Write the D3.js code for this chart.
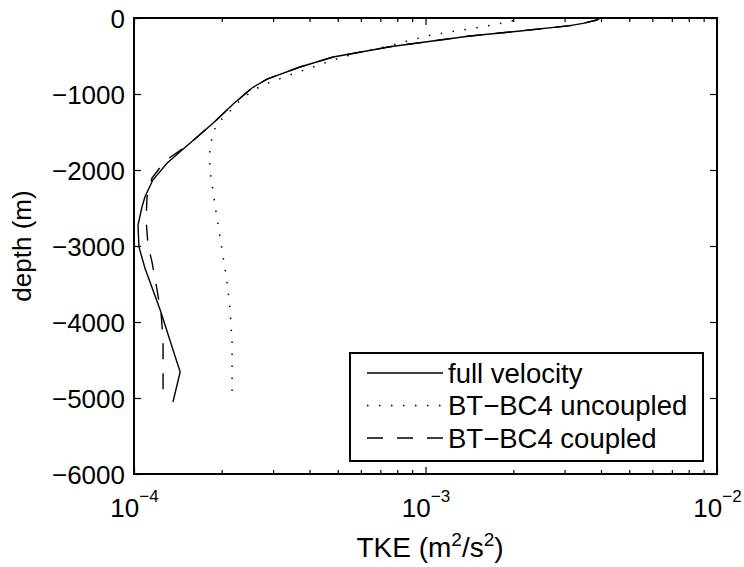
<!DOCTYPE html>
<html>
<head>
<meta charset="utf-8">
<script src="https://cdn.jsdelivr.net/npm/d3@7"></script>
<style>
body { margin: 0; background: #fff; }
text { font-family: "Liberation Sans", Arial, Helvetica, sans-serif; fill: #000; }
</style>
</head>
<body>
<svg width="744" height="567"></svg>
<script>
// full velocity (solid)
const depthFull = [0, -26, -70, -101, -171, -237, -378, -474, -513, -645, -803, -921, -1132, -1382, -1671, -1908, -2132, -2355, -2487, -2724, -3013, -3290, -3842, -4658, -5053];
const tkeFull = [3.97e-3, 3.87e-3, 3.47e-3, 3.13e-3, 2.11e-3, 1.42e-3, 7.55e-4, 5.51e-4, 4.82e-4, 3.71e-4, 2.86e-4, 2.54e-4, 2.19e-4, 1.87e-4, 1.53e-4, 1.30e-4, 1.16e-4, 1.09e-4, 1.065e-4, 1.032e-4, 1.04e-4, 1.09e-4, 1.23e-4, 1.44e-4, 1.36e-4];

// BT-BC4 uncoupled (dotted)
const depthUnc = [0, -70, -128, -180, -233, -312, -355, -461, -553, -658, -763, -882, -961, -1118, -1276, -1382, -1513, -1697, -2000, -2171, -2487, -2816, -3132, -3447, -3776, -4263, -4908];
const tkeUnc = [2.19e-3, 1.82e-3, 1.50e-3, 1.23e-3, 1.02e-3, 8.51e-4, 7.74e-4, 5.82e-4, 4.82e-4, 4.02e-4, 3.35e-4, 2.77e-4, 2.54e-4, 2.26e-4, 2.08e-4, 1.93e-4, 1.87e-4, 1.82e-4, 1.82e-4, 1.85e-4, 1.90e-4, 1.96e-4, 2.02e-4, 2.08e-4, 2.13e-4, 2.17e-4, 2.17e-4];

// BT-BC4 coupled (dashed)
const depthCpl = [0, -26, -70, -101, -171, -237, -378, -474, -513, -645, -803, -921, -1132, -1382, -1671, -1882, -2105, -2355, -2658, -2987, -3211, -3579, -3908, -4237, -4908];
const tkeCpl = [3.97e-3, 3.87e-3, 3.47e-3, 3.13e-3, 2.11e-3, 1.42e-3, 7.55e-4, 5.51e-4, 4.82e-4, 3.71e-4, 2.86e-4, 2.54e-4, 2.19e-4, 1.87e-4, 1.53e-4, 1.277e-4, 1.153e-4, 1.108e-4, 1.10e-4, 1.117e-4, 1.153e-4, 1.20e-4, 1.24e-4, 1.258e-4, 1.258e-4];

const yTicks = [0, -1000, -2000, -3000, -4000, -5000, -6000];
const xMajor = [1e-4, 1e-3, 1e-2];
const xMajorExp = ["\u22124", "\u22123", "\u22122"];
const legendNames = ["full velocity", "BT\u2212BC4 uncoupled", "BT\u2212BC4 coupled"];

const LEFT = 134, RIGHT = 717, TOP = 18, BOTTOM = 474;
const FONT = 26;

const svg = d3.select('svg');

const x = d3.scaleLog().domain([1e-4, 1e-2]).range([LEFT, RIGHT]);
const y = d3.scaleLinear().domain([-6000, 0]).range([BOTTOM, TOP]);

const isMajor = d => xMajor.some(m => Math.abs(m - d) / m < 1e-6);

// x ticks (bottom + top), inward
const gB = svg.append('g')
  .attr('transform', `translate(0,${BOTTOM})`)
  .call(d3.axisBottom(x).tickValues(x.ticks()).tickSizeInner(-6).tickSizeOuter(0).tickFormat(''));
gB.selectAll('.tick line').attr('y2', d => isMajor(d) ? -7 : -4);

const gT = svg.append('g')
  .attr('transform', `translate(0,${TOP})`)
  .call(d3.axisTop(x).tickValues(x.ticks()).tickSizeInner(-6).tickSizeOuter(0).tickFormat(''));
gT.selectAll('.tick line').attr('y2', d => isMajor(d) ? 7 : 4);

// y ticks (left + right)
const gL = svg.append('g')
  .attr('transform', `translate(${LEFT},0)`)
  .call(d3.axisLeft(y).tickValues(yTicks).tickSizeInner(-7).tickSizeOuter(0).tickPadding(9).tickFormat(d3.format('d')));
gL.selectAll('.tick text').attr('font-size', FONT).attr('font-family', null).attr('dy', '0.36em');

const gR = svg.append('g')
  .attr('transform', `translate(${RIGHT},0)`)
  .call(d3.axisRight(y).tickValues(yTicks).tickSizeInner(-7).tickSizeOuter(0).tickFormat(''));

svg.selectAll('.domain').remove();
svg.selectAll('.tick line').attr('stroke', '#000').attr('stroke-width', 1.2);

// x tick labels 10^n
gB.selectAll('.tick text').remove();
gB.selectAll('.tick').filter(d => isMajor(d)).each(function(d) {
  const i = xMajor.findIndex(m => Math.abs(m - d) / m < 1e-6);
  const t = d3.select(this).append('text')
    .attr('y', 43)
    .attr('text-anchor', 'middle')
    .attr('font-size', FONT)
    .attr('fill', '#000');
  t.append('tspan').text('10');
  t.append('tspan').attr('dy', -15).attr('font-size', 17).text(xMajorExp[i]);
});

// frame
svg.append('rect')
  .attr('x', LEFT).attr('y', TOP)
  .attr('width', RIGHT - LEFT).attr('height', BOTTOM - TOP)
  .attr('fill', 'none').attr('stroke', '#000').attr('stroke-width', 2);

// lines
const line = d3.line().x(d => x(d[0])).y(d => y(d[1]));
const series = [
  { tke: tkeFull, depth: depthFull, dash: null, w: 1.4 },
  { tke: tkeUnc, depth: depthUnc, dash: '1.5,10.5', w: 1.5 },
  { tke: tkeCpl, depth: depthCpl, dash: '16,14', w: 1.4 }
];
series.forEach(s => {
  svg.append('path')
    .datum(s.tke.map((v, i) => [v, s.depth[i]]))
    .attr('d', line)
    .attr('fill', 'none')
    .attr('stroke', '#000')
    .attr('stroke-width', s.w)
    .attr('stroke-dasharray', s.dash);
});

// legend
const lg = svg.append('g');
lg.append('rect')
  .attr('x', 350).attr('y', 353).attr('width', 353).attr('height', 108)
  .attr('fill', '#fff').attr('stroke', '#000').attr('stroke-width', 2);
legendNames.forEach((name, i) => {
  const cy = 373 + i * 32.5;
  lg.append('line')
    .attr('x1', 367).attr('x2', 443).attr('y1', cy).attr('y2', cy)
    .attr('stroke', '#000')
    .attr('stroke-width', series[i].w)
    .attr('stroke-dasharray', series[i].dash);
  lg.append('text')
    .attr('x', 448).attr('y', cy + 9.5)
    .attr('font-size', 27.5)
    .text(name);
});

// axis labels
const xl = svg.append('text')
  .attr('x', 430).attr('y', 557)
  .attr('text-anchor', 'middle')
  .attr('font-size', 28);
xl.append('tspan').text('TKE (m');
xl.append('tspan').attr('dy', -11).attr('font-size', 19).text('2');
xl.append('tspan').attr('dy', 11).text('/s');
xl.append('tspan').attr('dy', -11).attr('font-size', 19).text('2');
xl.append('tspan').attr('dy', 11).text(')');

svg.append('text')
  .attr('transform', `translate(31,${(TOP + BOTTOM) / 2}) rotate(-90)`)
  .attr('text-anchor', 'middle')
  .attr('font-size', FONT)
  .text('depth (m)');
</script>
</body>
</html>
